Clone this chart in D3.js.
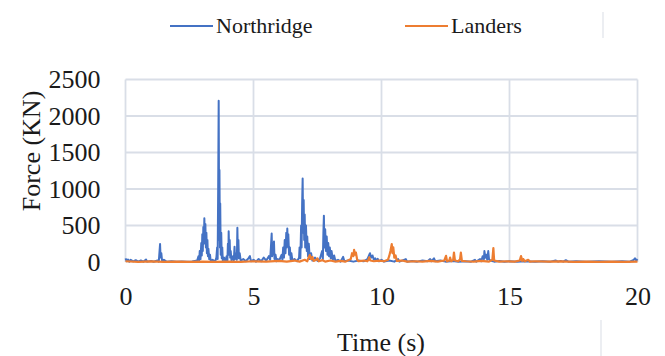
<!DOCTYPE html>
<html>
<head>
<meta charset="utf-8">
<script src="https://cdnjs.cloudflare.com/ajax/libs/d3/7.8.5/d3.min.js"></script>
<style>
  body { margin: 0; background: #fff; }
  svg text { font-family: "Liberation Serif", "Times New Roman", serif; fill: #1a1a1a; }
</style>
</head>
<body>
<div id="chart"></div>
<script>
// values: [time (s), force (kN)]
var northridge = [
  [0,50],[0.05,10],[0.1,35],[0.15,5],[0.2,30],[0.3,8],[0.4,25],[0.5,5],[0.6,20],[0.7,5],[0.8,35],[0.85,5],
  [1.0,15],[1.1,3],[1.25,20],[1.3,5],[1.33,150],[1.35,246],[1.37,60],[1.4,120],[1.43,10],[1.5,30],[1.6,5],
  [1.8,10],[2.0,3],[2.2,8],[2.4,3],[2.6,6],[2.8,20],
  [2.85,80],[2.88,20],[2.9,150],[2.93,40],[2.96,260],[2.98,90],[3.0,380],[3.02,150],[3.04,480],[3.06,250],
  [3.08,598],[3.1,300],[3.12,520],[3.14,200],[3.16,400],[3.18,120],[3.2,300],[3.22,80],[3.24,180],[3.27,40],
  [3.3,100],[3.33,10],[3.4,30],[3.5,5],
  [3.55,60],[3.58,200],[3.6,40],[3.62,1000],[3.64,2210],[3.66,300],[3.67,1260],[3.69,200],[3.7,800],[3.72,100],
  [3.74,400],[3.76,50],[3.78,200],[3.8,20],[3.85,60],[3.9,10],
  [3.95,80],[3.98,20],[4.0,250],[4.02,100],[4.03,420],[4.05,150],[4.07,300],[4.09,60],[4.11,150],[4.14,20],
  [4.2,80],[4.23,20],[4.26,210],[4.28,40],[4.32,120],[4.35,30],[4.37,470],[4.39,100],[4.41,300],[4.43,50],
  [4.46,120],[4.5,20],[4.6,40],[4.7,10],[4.8,50],[4.86,80],[4.9,10],[5.0,30],[5.1,5],[5.2,40],[5.3,10],
  [5.4,60],[5.5,20],[5.6,80],[5.65,30],
  [5.68,200],[5.71,390],[5.73,80],[5.76,150],[5.8,280],[5.82,40],[5.86,100],[5.9,10],[5.95,40],[6.0,15],[6.05,60],
  [6.1,100],[6.13,30],[6.16,200],[6.19,60],[6.22,300],[6.25,120],[6.28,400],[6.3,200],[6.32,460],[6.34,250],
  [6.36,380],[6.39,100],[6.42,200],[6.45,40],[6.48,120],[6.52,20],[6.6,40],[6.7,10],[6.78,60],
  [6.8,200],[6.83,50],[6.86,500],[6.88,200],[6.9,800],[6.92,1145],[6.94,400],[6.96,850],[6.98,300],[7.0,650],
  [7.02,200],[7.05,500],[7.08,150],[7.1,350],[7.13,80],[7.16,250],[7.2,40],[7.25,120],[7.3,20],[7.4,60],
  [7.5,15],[7.6,50],
  [7.68,150],[7.71,40],[7.73,400],[7.75,635],[7.77,200],[7.8,450],[7.83,150],[7.86,350],[7.89,100],[7.92,260],
  [7.95,80],[7.98,200],[8.02,50],[8.05,150],[8.1,30],[8.15,90],[8.2,15],[8.3,30],[8.4,5],[8.5,70],[8.55,10],
  [8.7,20],[8.9,5],[9.1,20],[9.3,10],[9.45,40],[9.5,80],[9.55,120],[9.6,60],[9.65,90],[9.7,30],[9.75,50],
  [9.8,20],[9.85,45],[9.9,10],[10.0,30],[10.1,5],[10.3,20],[10.5,5],[10.65,40],[10.7,5],[10.95,40],[11.0,5],
  [11.2,15],[11.4,5],[11.6,20],[11.8,10],[11.9,40],[11.95,10],[12.05,50],[12.1,10],[12.3,20],[12.5,5],
  [12.8,15],[13.0,5],[13.3,10],[13.5,5],[13.65,30],[13.7,5],[13.85,40],[13.9,10],[13.95,80],[14.0,40],
  [14.02,150],[14.06,60],[14.1,100],[14.13,30],[14.17,150],[14.2,40],[14.25,20],[14.4,5],[14.6,15],[14.8,5],
  [15.0,10],[15.3,5],[15.6,10],[16.0,5],[16.3,10],[16.6,5],[16.8,20],[16.9,5],[17.0,15],[17.1,5],[17.2,25],
  [17.3,5],[17.6,10],[18.0,5],[18.5,10],[19.0,5],[19.4,10],[19.7,5],[19.85,30],[19.9,50],[19.95,20],[20.0,40]
];

var landers = [
  [0,10],[0.5,3],[1.0,8],[1.5,2],[2.0,5],[2.5,2],[3.0,5],[3.5,3],[4.0,6],[4.5,3],[5.0,10],[5.5,5],[6.0,15],
  [6.3,5],[6.6,20],[6.8,5],[7.0,30],[7.1,10],[7.15,60],[7.2,95],[7.25,40],[7.3,70],[7.35,15],[7.45,30],
  [7.5,50],[7.55,10],[7.7,25],[7.8,5],[8.0,20],[8.2,5],[8.4,15],[8.6,5],[8.8,40],[8.85,120],[8.9,80],
  [8.93,165],[8.97,100],[9.0,130],[9.05,30],[9.1,10],[9.3,20],[9.45,10],[9.5,40],[9.52,65],[9.56,20],
  [9.7,10],[9.9,20],[10.1,10],[10.25,30],[10.3,80],[10.35,150],[10.4,245],[10.43,120],[10.46,200],[10.5,60],
  [10.55,90],[10.6,15],[10.8,20],[11.0,5],[11.3,10],[11.6,5],[11.9,15],[12.2,5],[12.45,20],[12.52,85],
  [12.56,10],[12.65,20],[12.68,60],[12.72,10],[12.8,30],[12.83,130],[12.87,20],[13.0,10],[13.07,40],
  [13.1,130],[13.14,15],[13.3,10],[13.6,5],[13.9,15],[14.2,5],[14.33,30],[14.37,190],[14.4,20],[14.6,5],
  [14.9,10],[15.2,5],[15.4,20],[15.45,80],[15.5,15],[15.54,40],[15.6,10],[15.73,30],[15.8,5],[16.0,10],
  [16.5,5],[17.0,8],[17.5,3],[18.0,6],[18.5,3],[19.0,5],[19.5,3],[20.0,5]
];

var xTicks = [0, 5, 10, 15, 20];
var yTicks = [0, 500, 1000, 1500, 2000, 2500];
var seriesNames = ["Northridge", "Landers"];
var colors = ["#4472C4", "#ED7D31"];

var W = 665, H = 356;
var svg = d3.select("#chart").append("svg")
    .attr("width", W)
    .attr("height", H);

var x = d3.scaleLinear().domain([0, 20]).range([125.5, 637.5]);
var y = d3.scaleLinear().domain([0, 2500]).range([262, 79.5]);

// grid
var grid = svg.append("g").attr("stroke", "#d9dee7").attr("stroke-width", 1.8);
grid.selectAll(".hg").data(yTicks.slice(1)).enter().append("line")
    .attr("x1", x(0)).attr("x2", x(20))
    .attr("y1", function (d) { return y(d); }).attr("y2", function (d) { return y(d); });
grid.selectAll(".vg").data(xTicks).enter().append("line")
    .attr("x1", function (d) { return x(d); }).attr("x2", function (d) { return x(d); })
    .attr("y1", y(2500)).attr("y2", y(0));

// leftover border fragments seen in the picture
svg.append("line").attr("x1", 603).attr("x2", 603).attr("y1", 12).attr("y2", 38)
    .attr("stroke", "#dfe3ea").attr("stroke-width", 1.2);
svg.append("line").attr("x1", 601).attr("x2", 601).attr("y1", 320).attr("y2", 356)
    .attr("stroke", "#dfe3ea").attr("stroke-width", 1.2);

// axes (labels only)
var yAxis = svg.append("g")
    .attr("transform", "translate(" + x(0) + ",0)")
    .call(d3.axisLeft(y).tickValues(yTicks).tickFormat(d3.format("d")).tickSize(0).tickPadding(25));
yAxis.attr("font-family", "Liberation Serif, serif").attr("font-size", 26);
yAxis.select(".domain").remove();

var xAxis = svg.append("g")
    .attr("transform", "translate(0," + y(0) + ")")
    .call(d3.axisBottom(x).tickValues(xTicks).tickFormat(d3.format("d")).tickSize(0).tickPadding(25));
xAxis.attr("font-family", "Liberation Serif, serif").attr("font-size", 26);
xAxis.select(".domain").remove();

// series
var line = d3.line()
    .x(function (d) { return x(d[0]); })
    .y(function (d) { return y(d[1]); });

[northridge, landers].forEach(function (s, i) {
    svg.append("path")
        .datum(s)
        .attr("fill", "none")
        .attr("stroke", colors[i])
        .attr("stroke-width", i === 0 ? 2 : 2.2)
        .attr("stroke-linejoin", "round")
        .attr("d", line);
});

// axis titles
svg.append("text")
    .attr("transform", "translate(40,151) rotate(-90)")
    .attr("text-anchor", "middle")
    .style("font-size", "26px")
    .text("Force (KN)");

svg.append("text")
    .attr("x", 381).attr("y", 351)
    .attr("text-anchor", "middle")
    .style("font-size", "26px")
    .text("Time (s)");

// legend
var legX = [170, 405];
var legend = svg.selectAll(".leg").data(seriesNames).enter().append("g")
    .attr("transform", function (d, i) { return "translate(" + legX[i] + ",26)"; });
legend.append("line")
    .attr("x1", 0).attr("x2", 43)
    .attr("stroke", function (d, i) { return colors[i]; })
    .attr("stroke-width", 2);
legend.append("text")
    .attr("x", 46).attr("y", 7)
    .style("font-size", "22px")
    .text(function (d) { return d; });
</script>
</body>
</html>
